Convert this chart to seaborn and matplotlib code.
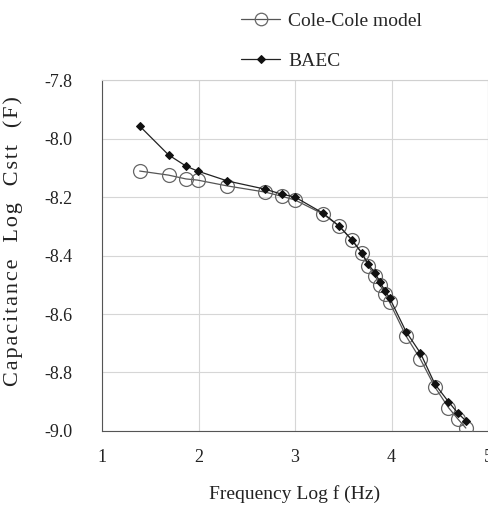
import matplotlib
matplotlib.use("Agg")
import matplotlib.pyplot as plt
import seaborn as sns
import pandas as pd

# log10 frequency (Hz)
log_f = [1.39, 1.69, 1.87, 1.99, 2.30, 2.69, 2.86, 3.00, 3.29, 3.46, 3.59,
         3.69, 3.76, 3.83, 3.88, 3.93, 3.98, 4.15, 4.30, 4.45, 4.59, 4.69, 4.77]
# log10 capacitance, Cole-Cole model fit
cole_cole = [-8.111, -8.125, -8.138, -8.142, -8.162, -8.183, -8.197, -8.210,
             -8.258, -8.300, -8.347, -8.390, -8.436, -8.470, -8.500, -8.530,
             -8.560, -8.675, -8.755, -8.850, -8.920, -8.960, -8.990]
# log10 capacitance, BAEC
baec = [-7.957, -8.056, -8.094, -8.111, -8.145, -8.173, -8.190, -8.200,
        -8.255, -8.300, -8.347, -8.390, -8.430, -8.460, -8.490, -8.520,
        -8.545, -8.660, -8.734, -8.840, -8.900, -8.940, -8.965]

x_ticks = [1, 2, 3, 4, 5]
y_ticks = [-7.8, -8.0, -8.2, -8.4, -8.6, -8.8, -9.0]

df = pd.DataFrame({
    "logf": log_f * 2,
    "logc": cole_cole + baec,
    "series": ["Cole-Cole model"] * len(log_f) + ["BAEC"] * len(log_f),
})

sns.set_theme(style="whitegrid")
plt.rcParams["font.family"] = ["Liberation Serif", "DejaVu Serif"]

fig = plt.figure(figsize=(4.89, 5.07), dpi=100)
ax = fig.add_axes([0.2086, 0.150, 0.7894, 0.692])

sns.lineplot(data=df[df.series == "Cole-Cole model"], x="logf", y="logc",
             ax=ax, color="#555555", lw=0.9, marker="o", markersize=10,
             markerfacecolor="none", markeredgecolor="#666666",
             markeredgewidth=0.9, label="Cole-Cole model", zorder=3)
sns.lineplot(data=df[df.series == "BAEC"], x="logf", y="logc",
             ax=ax, color="#222222", lw=0.9, marker="D", markersize=4.5,
             markerfacecolor="#111111", markeredgecolor="#111111",
             label="BAEC", zorder=4)

ax.set_xlim(1, 5)
ax.set_ylim(-9.0, -7.8)
ax.set_xticks(x_ticks)
ax.set_yticks(y_ticks)
ax.set_xticklabels([str(t) for t in x_ticks])
ax.set_yticklabels([f"{t:.1f}" for t in y_ticks])
ax.tick_params(axis="both", labelsize=13, colors="#222222", length=0)
ax.tick_params(axis="x", pad=13)
ax.tick_params(axis="y", pad=21)
ax.grid(True, color="#d6d6d6", lw=0.8)
for side, sp in ax.spines.items():
    sp.set_visible(True)
    sp.set_linewidth(0.8)
    sp.set_color("#d0d0d0")
ax.spines["left"].set_color("#555555")
ax.spines["bottom"].set_color("#555555")

ax.set_xlabel("Frequency Log f (Hz)", fontsize=14, color="#222222", labelpad=14)

# letter-spaced y-axis title
hair = "\u200a"
ylabel = "   ".join(hair.join(word) for word in ["Capacitance", "Log", "Cstt", "(F)"])
ax.set_ylabel(ylabel, fontsize=16, color="#222222")
ax.yaxis.set_label_coords(-0.205, 0.54)

handles, labels = ax.get_legend_handles_labels()
ax.get_legend().remove()
fig.legend(handles, labels, loc="upper left", bbox_to_anchor=(0.458, 1.01),
           frameon=False, fontsize=14, labelspacing=1.15, handlelength=2.0,
           handletextpad=0.4, markerscale=0.9)

fig.savefig("out.png", dpi=100)
